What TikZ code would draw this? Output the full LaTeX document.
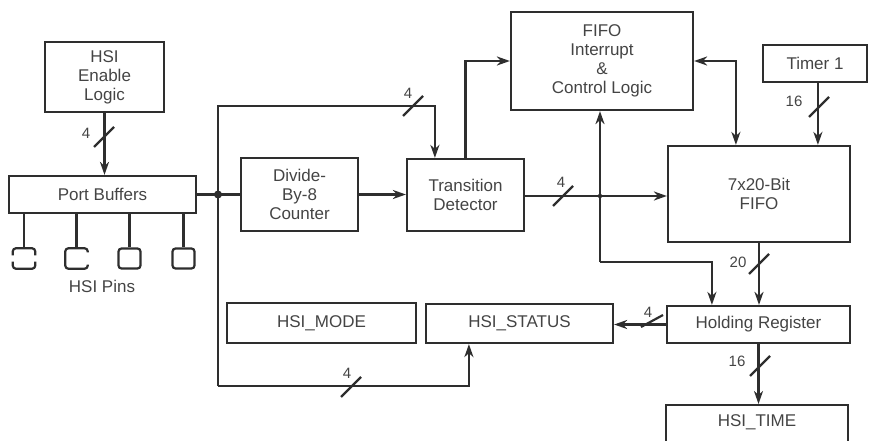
\documentclass[tikz,border=0pt]{standalone}
\usepackage{fontspec}
\setmainfont{Liberation Sans}
\usetikzlibrary{arrows.meta,calc}

\definecolor{ink}{HTML}{2E2E2E}
\definecolor{txt}{HTML}{444444}

\tikzset{
  blk/.style={draw=ink, line width=2.2pt, inner sep=0pt, align=center,
              text=txt, font=\fontsize{17}{19}\selectfont},
  wire/.style={draw=ink, line width=2.2pt},
  arr/.style={wire, -{Stealth[length=13pt,width=9pt,inset=4pt]}},
  arrboth/.style={wire, {Stealth[length=13pt,width=9pt,inset=4pt]}-{Stealth[length=13pt,width=9pt,inset=4pt]}},
  slash/.style={draw=ink, line width=2.2pt},
  lbl/.style={text=txt, inner sep=0pt, font=\fontsize{15}{15}\selectfont},
  pinbox/.style={draw=ink, line width=2.2pt, rounded corners=3pt, inner sep=0pt,
                 minimum width=22pt, minimum height=20pt},
  pinopen/.style={draw=none, inner sep=0pt, minimum width=22pt, minimum height=20pt},
  pinline/.style={draw=ink, line width=2.2pt, rounded corners=3pt},
}

\begin{document}
\begin{tikzpicture}[x=1pt, y=-1pt]
  \useasboundingbox (0,0) rectangle (869,441);
  \clip (0,0) rectangle (869,441);

  % functional blocks
  \node[blk, minimum width=119pt, minimum height=70pt] (enable) at (104.5,77)   {HSI\\Enable\\Logic};
  \node[blk, minimum width=187pt, minimum height=37pt] (port)   at (102.5,194.5){Port Buffers};
  \node[blk, minimum width=117pt, minimum height=73pt] (divide) at (299.5,194.5){Divide-\\By-8\\Counter};
  \node[blk, minimum width=117pt, minimum height=72pt] (trans)  at (465.5,195)  {Transition\\Detector};
  \node[blk, minimum width=182pt, minimum height=98pt] (fint)   at (602,61)     {FIFO\\Interrupt\\\&\\Control Logic};
  \node[blk, minimum width=182pt, minimum height=96pt] (fifo)   at (759,194)    {7x20-Bit\\FIFO};
  \node[blk, minimum width=104pt, minimum height=37pt] (timer)  at (815,63.5)   {Timer 1};
  \node[blk, minimum width=183pt, minimum height=37pt] (hold)   at (758.5,324.5){Holding Register};
  \node[blk, minimum width=187pt, minimum height=39pt] (status) at (519.5,323.5){HSI\_STATUS};
  \node[blk, minimum width=189pt, minimum height=40pt] (mode)   at (321.5,323)  {HSI\_MODE};
  \node[blk, minimum width=182pt, minimum height=40pt, anchor=north] (time) at (757,404) {};
  \node[text=txt, font=\fontsize{17}{19}\selectfont] (timetxt) at (757,422) {HSI\_TIME};

  % HSI pins
  \node[pinopen] (p1) at (24,258.5) {};
  \node[pinopen] (p2) at (76.5,258.5) {};
  \node[pinbox]  (p3) at (129.5,258.5) {};
  \node[pinbox]  (p4) at (183.5,258.5) {};
  \draw[pinline] ($(p1.north west)+(0,7)$) -- (p1.north west) -- (p1.north east) -- ($(p1.north east)+(0,7)$);
  \draw[pinline] ($(p1.south west)+(0,-7)$) -- (p1.south west) -- (p1.south east) -- ($(p1.south east)+(0,-7)$);
  \draw[pinline] ($(p2.north east)+(0,4)$) -- (p2.north east) -- (p2.north west) -- (p2.south west) -- (p2.south east) -- ($(p2.south east)+(0,-4)$);
  \foreach \p in {p1,p2,p3,p4}
    \draw[wire] (\p.north) -- (\p.north |- port.south);
  \node[text=txt, font=\fontsize{17}{19}\selectfont] (pinstxt) at (102,286) {HSI Pins};

  % routing points
  \coordinate (jA)     at (218,194.5);
  \coordinate (busTop) at (218,106);
  \coordinate (busBot) at (218,386);
  \coordinate (jB)     at (600,196);
  \coordinate (loop)   at (600,262);

  % connectors
  \draw[arr] (enable.south) -- (enable.south |- port.north);
  \draw[wire] (port.east) -- (divide.west);
  \draw[arr] (busBot) -- (busTop) -| ($(trans.north west)+(29,0)$);
  \draw[arr] (busBot) -| ($(status.south west)+(44,0)$);
  \draw[arr] (divide.east) -- (divide.east -| trans.west);
  \draw[arr] (trans.north) |- (fint.west);
  \draw[arr] (trans.east |- jB) -- (jB -| fifo.west);
  \draw[arr] (loop) -- (loop |- fint.south);
  \draw[arr] (loop) -| ($(hold.north west)+(46,0)$);
  \draw[arrboth] (fint.east) -| ($(fifo.north west)+(69,0)$);
  \draw[arr] ($(timer.south west)+(56,0)$) -- ($(fifo.north west)+(151,0)$);
  \draw[arr] (fifo.south) -- (fifo.south |- hold.north);
  \draw[arr] (hold.west) -- (hold.west -| status.east);
  \draw[arr] (hold.south) -- (hold.south |- time.north);

  % junction marks
  \fill[ink] (jA) circle (4pt);
  \draw[wire] ($(jA)+(0,-7)$) -- ($(jA)+(0,7)$);
  \fill[ink] (jB) circle (2.2pt);

  % bus width marks
  \draw[slash] (104,137) ++(-10,10) -- ++(20,-20);
  \node[lbl] (w1) at (86,133) {4};
  \draw[slash] (413,106) ++(-10,10) -- ++(20,-20);
  \node[lbl] (w2) at (408,93) {4};
  \draw[slash] (563,196) ++(-10,10) -- ++(20,-20);
  \node[lbl] (w3) at (561,182) {4};
  \draw[slash] (819,107) ++(-10,10) -- ++(20,-20);
  \node[lbl] (w4) at (794,101) {16};
  \draw[slash] (759,264) ++(-10,10) -- ++(20,-20);
  \node[lbl] (w5) at (738,262) {20};
  \draw[slash] (652,321) ++(-11,6) -- ++(22,-12);
  \node[lbl] (w6) at (648,312) {4};
  \draw[slash] (760,366) ++(-10,10) -- ++(20,-20);
  \node[lbl] (w7) at (737,361) {16};
  \draw[slash] (351,387) ++(-10,10) -- ++(20,-20);
  \node[lbl] (w8) at (347,373) {4};
\end{tikzpicture}
\end{document}
